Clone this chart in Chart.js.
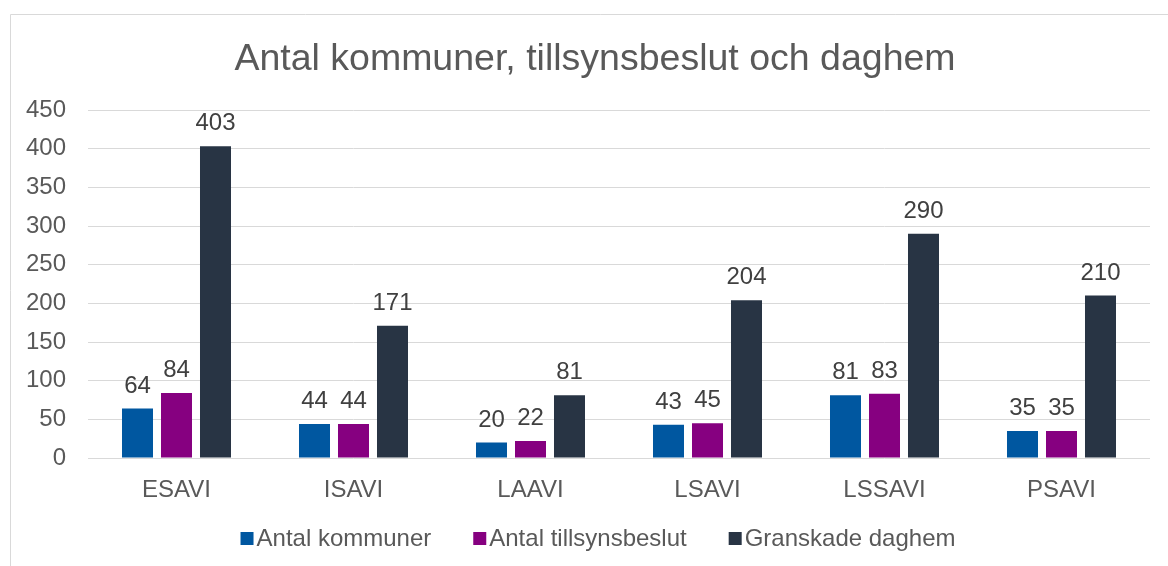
<!DOCTYPE html>
<html>
<head>
<meta charset="utf-8">
<title>Antal kommuner, tillsynsbeslut och daghem</title>
<script src="https://cdn.jsdelivr.net/npm/chart.js@4.4.1/dist/chart.umd.min.js"></script>
<style>
  html, body { margin: 0; padding: 0; background: #fff; overflow: hidden; }
  #wrap { position: relative; width: 1190px; height: 566px; }
</style>
</head>
<body>
<div id="wrap"><canvas id="chart" width="1190" height="566"></canvas></div>
<script>
// data
const regions = ["ESAVI", "ISAVI", "LAAVI", "LSAVI", "LSSAVI", "PSAVI"];
const kommuner = [64, 44, 20, 43, 81, 35];
const tillsynsbeslut = [84, 44, 22, 45, 83, 35];
const daghem = [403, 171, 81, 204, 290, 210];
const yTicks = [0, 50, 100, 150, 200, 250, 300, 350, 400, 450];
const chartTitle = "Antal kommuner, tillsynsbeslut och daghem";

const FONT = "'Liberation Sans', Arial, Helvetica, sans-serif";
const GREY = "#595959";
const GRID = "#d9d9d9";

// outer frame + title (title centred on the whole frame, not the plot)
const framePlugin = {
  id: "frame",
  beforeDraw(chart) {
    const ctx = chart.ctx;
    ctx.save();
    ctx.strokeStyle = GRID;
    ctx.lineWidth = 1;
    ctx.beginPath();
    ctx.moveTo(10.5, chart.height);
    ctx.lineTo(10.5, 14.5);
    ctx.lineTo(chart.width, 14.5);
    ctx.stroke();

    ctx.font = "37.5px " + FONT;
    ctx.fillStyle = GREY;
    ctx.textAlign = "center";
    ctx.textBaseline = "middle";
    ctx.fillText(chartTitle, 595, 60);
    ctx.restore();
  }
};

// value labels above every bar
const valueLabels = {
  id: "valueLabels",
  afterDatasetsDraw(chart) {
    const ctx = chart.ctx;
    ctx.save();
    ctx.font = "24px " + FONT;
    ctx.fillStyle = "#404040";
    ctx.textAlign = "center";
    ctx.textBaseline = "alphabetic";
    chart.data.datasets.forEach((ds, i) => {
      chart.getDatasetMeta(i).data.forEach((bar, j) => {
        ctx.fillText(ds.data[j], bar.x, bar.y - 16);
      });
    });
    ctx.restore();
  }
};

// legend with small square and tight gap (Excel style)
const bottomLegend = {
  id: "bottomLegend",
  afterDraw(chart) {
    const ctx = chart.ctx;
    const box = 13, gapText = 3, gapItem = 42;
    ctx.save();
    ctx.font = "24px " + FONT;
    const items = chart.data.datasets.map(ds => ({
      label: ds.label, color: ds.backgroundColor, w: ctx.measureText(ds.label).width
    }));
    const total = items.reduce((s, it) => s + box + gapText + it.w, 0) + gapItem * (items.length - 1);
    let x = 598 - total / 2;
    const top = 532;
    ctx.textBaseline = "alphabetic";
    ctx.textAlign = "left";
    items.forEach(it => {
      ctx.fillStyle = it.color;
      ctx.fillRect(x, top, box, box);
      x += box + gapText;
      ctx.fillStyle = GREY;
      ctx.fillText(it.label, x, 546);
      x += it.w + gapItem;
    });
    ctx.restore();
  }
};

new Chart(document.getElementById("chart"), {
  type: "bar",
  data: {
    labels: regions,
    datasets: [
      { label: "Antal kommuner", data: kommuner, backgroundColor: "#0057a0" },
      { label: "Antal tillsynsbeslut", data: tillsynsbeslut, backgroundColor: "#860080" },
      { label: "Granskade daghem", data: daghem, backgroundColor: "#283444" }
    ]
  },
  options: {
    responsive: false,
    animation: false,
    devicePixelRatio: 1,
    layout: { padding: { left: 0, right: 40, top: 110, bottom: 58 } },
    datasets: {
      bar: { categoryPercentage: 0.661, barPercentage: 0.795 }
    },
    plugins: {
      legend: { display: false },
      tooltip: { enabled: false },
      title: { display: false }
    },
    scales: {
      x: {
        grid: { display: false },
        border: { display: false },
        ticks: { color: GREY, font: { family: FONT, size: 24 }, padding: 10 },
        afterFit(scale) { scale.height = 50; }
      },
      y: {
        min: 0,
        max: 450,
        afterBuildTicks(scale) { scale.ticks = yTicks.map(v => ({ value: v })); },
        grid: { color: GRID, lineWidth: 1, drawTicks: false },
        border: { display: false },
        ticks: { color: GREY, font: { family: FONT, size: 24 }, padding: 22 },
        afterFit(scale) { scale.width = 88; }
      }
    }
  },
  plugins: [framePlugin, valueLabels, bottomLegend]
});
</script>
</body>
</html>
